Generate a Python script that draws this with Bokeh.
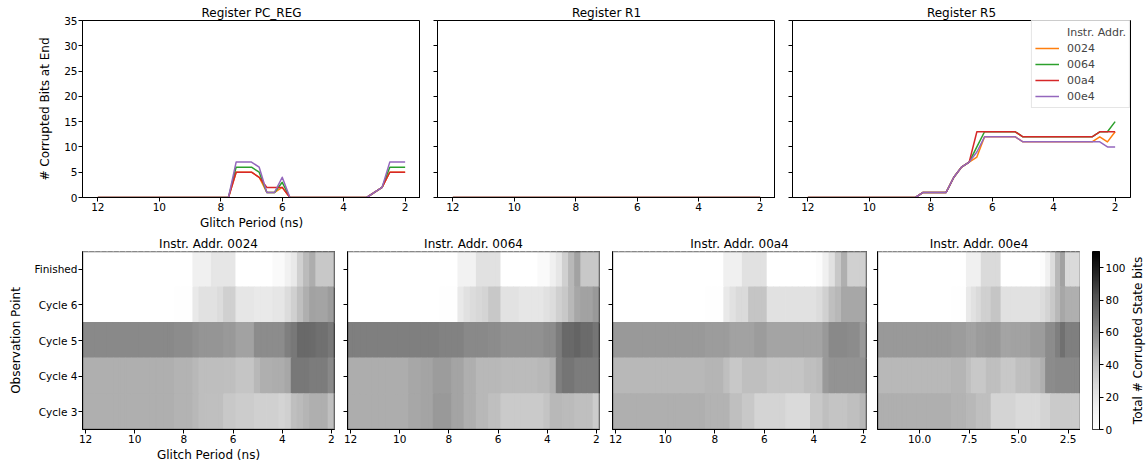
import numpy as np
from bokeh.plotting import figure
from bokeh.layouts import row, column
from bokeh.models import (Range1d, FixedTicker, LinearColorMapper, Legend, LegendItem, Title,
                          ColumnDataSource, NumeralTickFormatter, CustomLabelingPolicy,
                          BoxAnnotation)
from bokeh.transform import transform
from bokeh.palettes import Greys9
from bokeh.embed import file_html
from bokeh.resources import INLINE

# ---------------- data ----------------
PERIODS = [12.0, 11.75, 11.5, 11.25, 11.0, 10.75, 10.5, 10.25, 10.0, 9.75,
           9.5, 9.25, 9.0, 8.75, 8.5, 8.25, 8.0, 7.75, 7.5, 7.25,
           7.0, 6.75, 6.5, 6.25, 6.0, 5.75, 5.5, 5.25, 5.0, 4.75,
           4.5, 4.25, 4.0, 3.75, 3.5, 3.25, 3.0, 2.75, 2.5, 2.25,
           2.0]
ADDRS = ["0024", "0064", "00a4", "00e4"]
COLORS = ["#ff7f0e", "#2ca02c", "#d62728", "#9467bd"]
REGISTERS = ["PC_REG", "R1", "R5"]
OBS_POINTS = ["Finished", "Cycle 6", "Cycle 5", "Cycle 4", "Cycle 3"]

# corrupted bits at end, per register and instruction address
PC_0024 = [0,0,0,0,0,0,0,0,0,0, 0,0,0,0,0,0,0,0,5,5, 5,4,1,1,2,0,0,0,0,0, 0,0,0,0,0,0,1,2,5,5, 5]
PC_0064 = [0,0,0,0,0,0,0,0,0,0, 0,0,0,0,0,0,0,0,6,6, 6,5,1,1,3,0,0,0,0,0, 0,0,0,0,0,0,1,2,6,6, 6]
PC_00a4 = [0,0,0,0,0,0,0,0,0,0, 0,0,0,0,0,0,0,0,5,5, 5,4,2,2,2,0,0,0,0,0, 0,0,0,0,0,0,1,2,5,5, 5]
PC_00e4 = [0,0,0,0,0,0,0,0,0,0, 0,0,0,0,0,0,0,0,7,7, 7,6,1,1,4,0,0,0,0,0, 0,0,0,0,0,0,1,2,7,7, 7]

R1_0024 = [0,0,0,0,0,0,0,0,0,0, 0,0,0,0,0,0,0,0,0,0, 0,0,0,0,0,0,0,0,0,0, 0,0,0,0,0,0,0,0,0,0, 0]
R1_0064 = [0,0,0,0,0,0,0,0,0,0, 0,0,0,0,0,0,0,0,0,0, 0,0,0,0,0,0,0,0,0,0, 0,0,0,0,0,0,0,0,0,0, 0]
R1_00a4 = [0,0,0,0,0,0,0,0,0,0, 0,0,0,0,0,0,0,0,0,0, 0,0,0,0,0,0,0,0,0,0, 0,0,0,0,0,0,0,0,0,0, 0]
R1_00e4 = [0,0,0,0,0,0,0,0,0,0, 0,0,0,0,0,0,0,0,0,0, 0,0,0,0,0,0,0,0,0,0, 0,0,0,0,0,0,0,0,0,0, 0]

R5_0024 = [0,0,0,0,0,0,0,0,0,0, 0,0,0,0,0,1,1,1,1,4, 6,7,8,12,12,12,12,12,11,11, 11,11,11,11,11,11,11,11,12,11, 13]
R5_0064 = [0,0,0,0,0,0,0,0,0,0, 0,0,0,0,0,1,1,1,1,4, 6,7,10,13,13,13,13,13,12,12, 12,12,12,12,12,12,12,12,13,13, 15]
R5_00a4 = [0,0,0,0,0,0,0,0,0,0, 0,0,0,0,0,1,1,1,1,4, 6,7,13,13,13,13,13,13,12,12, 12,12,12,12,12,12,12,12,13,13, 13]
R5_00e4 = [0,0,0,0,0,0,0,0,0,0, 0,0,0,0,0,1,1,1,1,4, 6,7,9,12,12,12,12,12,11,11, 11,11,11,11,11,11,11,11,11,10, 10]

# total corrupted state bits, rows = OBS_POINTS (Finished .. Cycle 3)
HEAT_0024 = [
    [0,0,0,0,0,0,0,0,0,0, 0,0,0,0,0,0,0,0,14,14, 14,20,20,20,20,0,0,0,0,0, 0,5,5,13,18,32,42,47,36,36, 36],
    [0,0,0,0,0,0,0,0,0,0, 0,0,0,0,0,1,1,1,18,23, 23,23,26,32,32,20,20,20,18,18, 18,20,20,26,32,40,46,51,50,50, 53],
    [60,60,60,60,60,60,60,60,60,60, 60,60,60,60,60,59,59,59,57,55, 55,55,55,54,54,51,51,51,59,59, 59,59,59,64,67,73,73,72,70,70, 67],
    [46,46,46,46,46,46,46,46,46,46, 46,46,46,46,46,45,45,45,43,41, 41,41,41,40,40,37,37,37,43,46, 46,47,47,49,67,67,67,65,65,65, 60],
    [46,46,46,46,46,46,46,46,46,46, 46,46,46,46,46,45,45,45,43,41, 40,40,40,36,36,34,34,34,32,32, 32,32,30,32,40,42,44,46,46,46, 40],
]
HEAT_0064 = [
    [0,0,0,0,0,0,0,0,0,0, 0,0,0,0,0,0,0,0,12,12, 12,23,23,23,23,0,0,0,0,0, 0,5,5,14,20,32,43,51,36,36, 36],
    [0,0,0,0,0,0,0,0,0,0, 0,0,0,0,0,1,1,1,18,23, 26,28,30,36,36,22,22,22,20,20, 20,20,23,26,32,36,43,49,51,51, 54],
    [64,64,64,64,64,64,64,64,64,64, 64,64,64,64,64,63,63,63,63,60, 60,60,60,59,59,57,57,57,57,57, 57,57,59,59,65,73,73,75,72,72, 68],
    [47,47,47,47,47,47,47,47,47,47, 49,49,50,50,53,53,53,50,50,46, 46,43,43,43,43,42,42,42,42,42, 42,43,43,46,64,68,68,65,65,65, 65],
    [47,47,47,47,47,47,47,47,47,47, 49,49,50,50,54,54,54,50,50,46, 46,43,43,40,40,35,35,35,35,35, 35,35,38,43,43,42,42,40,40,40, 34],
]
HEAT_00a4 = [
    [0,0,0,0,0,0,0,0,0,0, 0,0,0,0,0,0,0,0,14,14, 14,23,23,23,23,0,0,0,0,0, 0,0,0,3,14,23,36,46,32,32, 32],
    [0,0,0,0,0,0,0,0,0,0, 0,0,0,0,0,1,1,1,18,23, 27,27,37,37,37,23,23,23,23,23, 23,23,23,26,32,40,43,49,49,49, 49],
    [54,54,54,54,54,54,54,54,54,54, 54,54,54,54,54,53,53,53,53,51, 51,51,51,53,53,50,50,50,50,50, 50,50,50,50,54,60,60,60,59,59, 54],
    [43,43,43,43,43,43,43,43,43,43, 43,43,43,43,43,44,44,44,40,36, 36,40,40,40,40,37,37,37,37,37, 37,40,40,42,54,56,56,56,56,56, 56],
    [46,46,46,46,46,46,46,46,46,46, 46,46,46,46,46,45,45,45,45,40, 40,36,36,30,30,30,30,30,27,27, 27,27,36,36,40,38,38,38,40,40, 43],
]
HEAT_00e4 = [
    [0,0,0,0,0,0,0,0,0,0, 0,0,0,0,0,0,0,0,14,14, 14,27,27,27,27,0,0,0,0,0, 0,0,0,3,14,26,43,51,27,27, 27],
    [0,0,0,0,0,0,0,0,0,0, 0,0,0,0,0,1,1,1,18,23, 27,32,32,37,37,23,23,23,23,23, 23,23,23,26,30,36,43,49,46,46, 46],
    [54,54,54,54,54,54,54,54,54,54, 54,54,54,54,54,53,53,53,51,51, 53,53,54,54,54,50,50,51,51,51, 51,53,53,53,59,59,64,70,64,64, 64],
    [43,43,43,43,43,43,43,43,43,43, 43,43,43,43,43,44,44,44,40,36, 36,36,40,40,40,36,36,36,40,40, 40,43,43,46,59,59,60,60,60,60, 60],
    [46,46,46,46,46,46,46,46,46,46, 46,46,46,46,46,45,45,45,43,43, 40,40,40,30,30,30,30,30,27,27, 27,27,27,30,30,35,35,35,35,35, 35],
]
CBAR_MAX = 110
CBAR_TICKS = [0, 20, 40, 60, 80, 100]
CBAR_LABEL = "Total # Corrupted State bits"

LINES = {
    "PC_REG": [PC_0024, PC_0064, PC_00a4, PC_00e4],
    "R1": [R1_0024, R1_0064, R1_00a4, R1_00e4],
    "R5": [R5_0024, R5_0064, R5_00a4, R5_00e4],
}
HEATS = [HEAT_0024, HEAT_0064, HEAT_00a4, HEAT_00e4]

# ---------------- style helpers ----------------
FONT = "DejaVu Sans"
TICK_FS = "10.5px"
LABEL_FS = "12px"


def grey_palette():
    anchors = list(reversed(Greys9))  # white -> black (matplotlib "Greys")
    rgb = np.array([[int(c[i:i + 2], 16) for i in (1, 3, 5)] for c in anchors], float)
    pos = np.linspace(0, 1, len(anchors))
    out = []
    for t in np.linspace(0, 1, 256):
        r, g, b = (int(round(np.interp(t, pos, rgb[:, k]))) for k in range(3))
        out.append("#%02x%02x%02x" % (r, g, b))
    return out


MAPPER = LinearColorMapper(palette=grey_palette(), low=0, high=CBAR_MAX)


def style(p, show_ylabels=True):
    p.grid.visible = False
    p.outline_line_color = "black"
    p.outline_line_width = 1
    p.background_fill_color = "white"
    p.border_fill_color = "white"
    for ax in p.axis:
        ax.major_tick_in = 0
        ax.major_tick_out = 4
        ax.minor_tick_line_color = None
        ax.axis_line_color = "black"
        ax.major_tick_line_color = "black"
        ax.major_label_text_font = FONT
        ax.major_label_text_font_size = TICK_FS
        ax.major_label_text_color = "black"
        ax.major_label_standoff = 1
        ax.axis_label_text_font = FONT
        ax.axis_label_text_font_size = LABEL_FS
        ax.axis_label_text_font_style = "normal"
        ax.axis_label_text_color = "black"
        ax.axis_label_standoff = 2
    if not show_ylabels:
        # tick marks only: no label is drawn, and almost no room is reserved
        p.yaxis.major_label_policy = CustomLabelingPolicy(code="return []")
        p.yaxis.major_label_text_font_size = "1px"
        p.yaxis.major_label_standoff = 0
    if p.title is not None:
        p.title.text_font = FONT
        p.title.text_font_size = LABEL_FS
        p.title.text_font_style = "normal"
        p.title.text_color = "black"
        p.title.align = "center"
        p.title.standoff = 2


# ---------------- top row: line charts ----------------
top_cfg = [(420, 82, 0), (355, 17, 0), (373, 17, 18)]
top_figs = []
for k, reg in enumerate(REGISTERS):
    w, ml, mr = top_cfg[k]
    p = figure(width=w, height=232, x_range=Range1d(12.5, 1.5), y_range=Range1d(0, 35),
               output_backend="svg", toolbar_location=None, title="Register " + reg,
               min_border_left=ml, min_border_right=mr, min_border_top=20, min_border_bottom=34)
    p.xaxis.ticker = FixedTicker(ticks=[12, 10, 8, 6, 4, 2])
    p.yaxis.ticker = FixedTicker(ticks=[0, 5, 10, 15, 20, 25, 30, 35])
    style(p, show_ylabels=(k == 0))
    if k == 0:
        p.xaxis.axis_label = "Glitch Period (ns)"
        p.yaxis.axis_label = "# Corrupted Bits at End"
        p.yaxis.axis_label_standoff = 9
    rends = []
    for vals, col in zip(LINES[reg], COLORS):
        r = p.line(PERIODS, vals, line_color=col, line_width=1.5, line_join="round")
        rends.append(r)
    if k == 2:
        dummy = p.line(x=[], y=[], line_alpha=0)
        items = [LegendItem(label="Instr. Addr.", renderers=[dummy])]
        items += [LegendItem(label=a, renderers=[r]) for a, r in zip(ADDRS, rends)]
        leg = Legend(items=items, location="top_right", margin=0, padding=3, spacing=0,
                     glyph_width=24, glyph_height=16, label_height=16, label_standoff=8,
                     label_text_font=FONT, label_text_font_size="11px",
                     border_line_color="#cccccc", border_line_width=1,
                     background_fill_alpha=0.8)
        p.add_layout(leg)
    top_figs.append(p)

# ---------------- bottom row: heatmaps ----------------
BOT_H = 232
BOT_TOP = 19
BOT_BOTTOM = 35
bot_cfg = [(336, 82, 2), (265, 11, 2), (267, 11, 2), (212, 9, 0)]
bot_figs = []
for k, (addr, grid) in enumerate(zip(ADDRS, HEATS)):
    w, ml, mr = bot_cfg[k]
    p = figure(width=w, height=BOT_H, x_range=Range1d(12.125, 1.875), y_range=Range1d(-0.5, 4.5),
               output_backend="svg", toolbar_location=None, title="Instr. Addr. " + addr,
               min_border_left=ml, min_border_right=mr, min_border_top=BOT_TOP,
               min_border_bottom=BOT_BOTTOM)
    xs, ys, vs = [], [], []
    for ri, vals in enumerate(grid):
        for x, v in zip(PERIODS, vals):
            xs.append(x)
            ys.append(len(OBS_POINTS) - 1 - ri)
            vs.append(v)
    src = ColumnDataSource(dict(x=xs, y=ys, v=vs))
    # outline in the cell colour hides anti-aliasing seams between neighbouring cells
    p.rect(x="x", y="y", width=0.25, height=1, source=src,
           fill_color=transform("v", MAPPER), line_color=transform("v", MAPPER), line_width=1.4)
    # frame border redrawn on top of the cells (box with no bounds = whole frame)
    p.add_layout(BoxAnnotation(fill_color=None, fill_alpha=0, line_color="black",
                               line_width=2, level="overlay"))
    style(p, show_ylabels=(k == 0))
    p.yaxis.ticker = FixedTicker(ticks=[0, 1, 2, 3, 4])
    if k == 0:
        p.yaxis.major_label_overrides = {len(OBS_POINTS) - 1 - i: name
                                         for i, name in enumerate(OBS_POINTS)}
        p.yaxis.axis_label_standoff = 8
    if k == 3:
        p.xaxis.ticker = FixedTicker(ticks=[10, 7.5, 5, 2.5])
        p.xaxis.formatter = NumeralTickFormatter(format="0.0")
    else:
        p.xaxis.ticker = FixedTicker(ticks=[12, 10, 8, 6, 4, 2])
    if k == 0:
        p.xaxis.axis_label = "Glitch Period (ns)"
        p.yaxis.axis_label = "Observation Point"
    bot_figs.append(p)

# ---------------- colour bar as its own narrow figure ----------------
cbf = figure(width=48, height=BOT_H, x_range=Range1d(0, 1), y_range=Range1d(0, CBAR_MAX),
             output_backend="svg", toolbar_location=None, x_axis_location=None,
             y_axis_location="right", min_border_left=12, min_border_right=0,
             min_border_top=BOT_TOP, min_border_bottom=BOT_BOTTOM)
grad = np.linspace(0, CBAR_MAX, 256).reshape(256, 1)
cbf.image(image=[grad], x=0, y=0, dw=1, dh=CBAR_MAX, color_mapper=MAPPER)
style(cbf)
cbf.yaxis.ticker = FixedTicker(ticks=CBAR_TICKS)
cbf.yaxis.major_label_standoff = 2

# colour-bar label: a left-side title of a slim figure (reads bottom-to-top)
lab = figure(width=20, height=BOT_H, x_range=Range1d(0, 1), y_range=Range1d(0, 1),
             output_backend="svg", toolbar_location=None, x_axis_location=None,
             y_axis_location=None, min_border_left=0, min_border_right=0,
             min_border_top=BOT_TOP, min_border_bottom=BOT_BOTTOM, outline_line_color=None)
lab.grid.visible = False
lab.add_layout(Title(text=CBAR_LABEL, align="center", text_font=FONT, text_font_size=LABEL_FS,
                     text_font_style="normal", text_color="black", standoff=0), "left")

layout = column(row(*top_figs), row(*bot_figs, cbf, lab))
open("out.html", "w").write(file_html(layout, INLINE))
